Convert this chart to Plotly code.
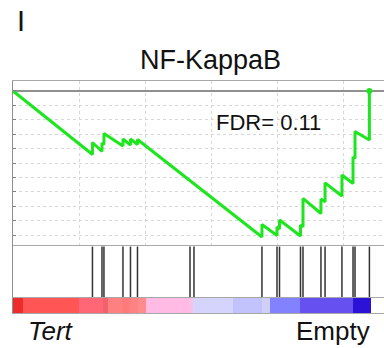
import plotly.graph_objects as go

# ---------------- data ----------------
title_text = "NF-KappaB"
fdr_text = "FDR= 0.11"
left_label = "Tert"
right_label = "Empty"
panel_letter = "I"

n_genes = 27120

# running enrichment score vertices (rank, ES)
es_rank = [0, 6020, 6020, 6740, 6740, 6890, 6890, 8330, 8330, 8900, 8900,
           9430, 9430, 18860, 18860, 20000, 20000,
           20190, 20190, 21780, 21780, 21970, 21970, 23330, 23330, 23640, 23640,
           24920, 24920, 25760, 25760, 25910, 25910, 27000, 27000]
es_score = [0.0, -0.2205, -0.1788, -0.210, -0.1806, -0.1858, -0.1476, -0.191, -0.1667,
            -0.1875, -0.1667, -0.1858, -0.1684,
            -0.507, -0.4635, -0.5017, -0.4722, -0.479, -0.448, -0.5035, -0.465,
            -0.472, -0.373, -0.4253, -0.375, -0.385, -0.319, -0.3646, -0.2917,
            -0.321, -0.229, -0.234, -0.1406, -0.170, 0.0]

# gene set hit positions (rank)
hit_ranks = [6020, 6740, 6890, 8330, 8900, 9430, 13410, 13710, 18860, 20000,
             20190, 21780, 21970, 23330, 23640, 24920, 25760, 25910, 27000]

# ranked list colour bar segments
cb_edges = [0, 760, 5000, 6820, 7200, 8330, 8860, 9470, 10080, 13410, 13640,
            16670, 18860, 19470, 21740, 25760, 27120]
cb_colors = ["#ee2b2b", "#ff5555", "#ff6676", "#f2626c", "#ff8080", "#ff7a7a",
             "#ff8282", "#ff8c8c", "#ffbbe3", "#f4c4e4", "#d4d4fc", "#c2c2fc",
             "#d0d0f6", "#8282ff", "#6650f0", "#2c12d6"]

# ---------------- figure ----------------
W, H = 384, 348
x_left = 13 / W
x_max = 28106

def py(p):
    return 1 - p / H

fig = go.Figure()

# running ES curve
fig.add_trace(go.Scatter(x=es_rank, y=es_score, mode="lines",
                         line=dict(color="#1ee61e", width=3),
                         xaxis="x", yaxis="y", hoverinfo="skip"))
fig.add_trace(go.Scatter(x=[es_rank[-1]], y=[es_score[-1]], mode="markers",
                         marker=dict(color="#1ee61e", size=6),
                         xaxis="x", yaxis="y", hoverinfo="skip"))

# hit lines
hx, hy = [], []
for r in hit_ranks:
    hx += [r, r, None]
    hy += [0, 0.97, None]
fig.add_trace(go.Scatter(x=hx, y=hy, mode="lines",
                         line=dict(color="#333333", width=1.5),
                         xaxis="x2", yaxis="y2", hoverinfo="skip"))

# colour bar
starts = cb_edges[:-1]
widths = [b - a for a, b in zip(cb_edges[:-1], cb_edges[1:])]
fig.add_trace(go.Bar(y=[0] * len(widths), x=widths, base=starts, orientation="h",
                     marker=dict(color=cb_colors, line=dict(width=0)),
                     width=1, xaxis="x3", yaxis="y3", hoverinfo="skip"))

frame_col = "#a8a8a8"
grid_col = "#d6d6d6"

fig.update_layout(
    width=W, height=H,
    margin=dict(l=0, r=0, t=0, b=0),
    paper_bgcolor="white", plot_bgcolor="white",
    showlegend=False,
    bargap=0,
    xaxis=dict(domain=[x_left, 1], range=[0, x_max], dtick=5000, showgrid=True,
               gridcolor=grid_col, griddash="dot", gridwidth=1, zeroline=False,
               showticklabels=False, ticks="", showline=True, linecolor=frame_col,
               linewidth=1, mirror=True, anchor="y"),
    yaxis=dict(domain=[py(245), py(81)], range=[-0.5347, 0.0347], dtick=0.05,
               showgrid=True, gridcolor=grid_col, griddash="dot", gridwidth=1,
               zeroline=True, zerolinecolor="#909090", zerolinewidth=1.5,
               showticklabels=False, ticks="inside", ticklen=3, tickcolor="#808080",
               showline=True, linecolor="#909090", linewidth=1, anchor="x"),
    xaxis2=dict(domain=[x_left, 1], range=[0, x_max], showgrid=False, zeroline=False,
                showticklabels=False, ticks="", showline=False, anchor="y2"),
    yaxis2=dict(domain=[py(298), py(245)], range=[0, 1], showgrid=False,
                zeroline=False, showticklabels=False, ticks="", showline=True,
                linecolor="#909090", linewidth=1, anchor="x2"),
    xaxis3=dict(domain=[x_left, 1], range=[0, x_max], showgrid=False, zeroline=False,
                showticklabels=False, ticks="", showline=True, linecolor=frame_col,
                linewidth=1, mirror=True, anchor="y3"),
    yaxis3=dict(domain=[py(313), py(298)], range=[-0.5, 0.5], showgrid=False,
                zeroline=False, showticklabels=False, ticks="", showline=True,
                linecolor="#909090", linewidth=1, anchor="x3"),
)

font_fam = "Liberation Sans, Arial, sans-serif"
fig.add_annotation(text=title_text, xref="paper", yref="paper", x=210 / W, y=py(60.5),
                   xanchor="center", yanchor="middle", showarrow=False,
                   font=dict(family=font_fam, size=27, color="#111111"))
fig.add_annotation(text=fdr_text, xref="paper", yref="paper", x=214 / W, y=py(122.5),
                   xanchor="left", yanchor="middle", showarrow=False,
                   font=dict(family=font_fam, size=22, color="#111111"))
fig.add_annotation(text="<i>" + left_label + "</i>", xref="paper", yref="paper",
                   x=26 / W, y=py(331), xanchor="left", yanchor="middle", showarrow=False,
                   font=dict(family=font_fam, size=26, color="#111111"))
fig.add_annotation(text=right_label, xref="paper", yref="paper", x=372 / W, y=py(331),
                   xanchor="right", yanchor="middle", showarrow=False,
                   font=dict(family=font_fam, size=26, color="#111111"))
fig.add_annotation(text=panel_letter, xref="paper", yref="paper", x=15 / W, y=py(20.5),
                   xanchor="left", yanchor="middle", showarrow=False,
                   font=dict(family=font_fam, size=29, color="#111111"))

fig.write_html("out.html", config={"displayModeBar": False},
               post_script="document.body.style.margin='0';document.body.style.padding='0';"
                           "document.documentElement.style.overflow='hidden';")
